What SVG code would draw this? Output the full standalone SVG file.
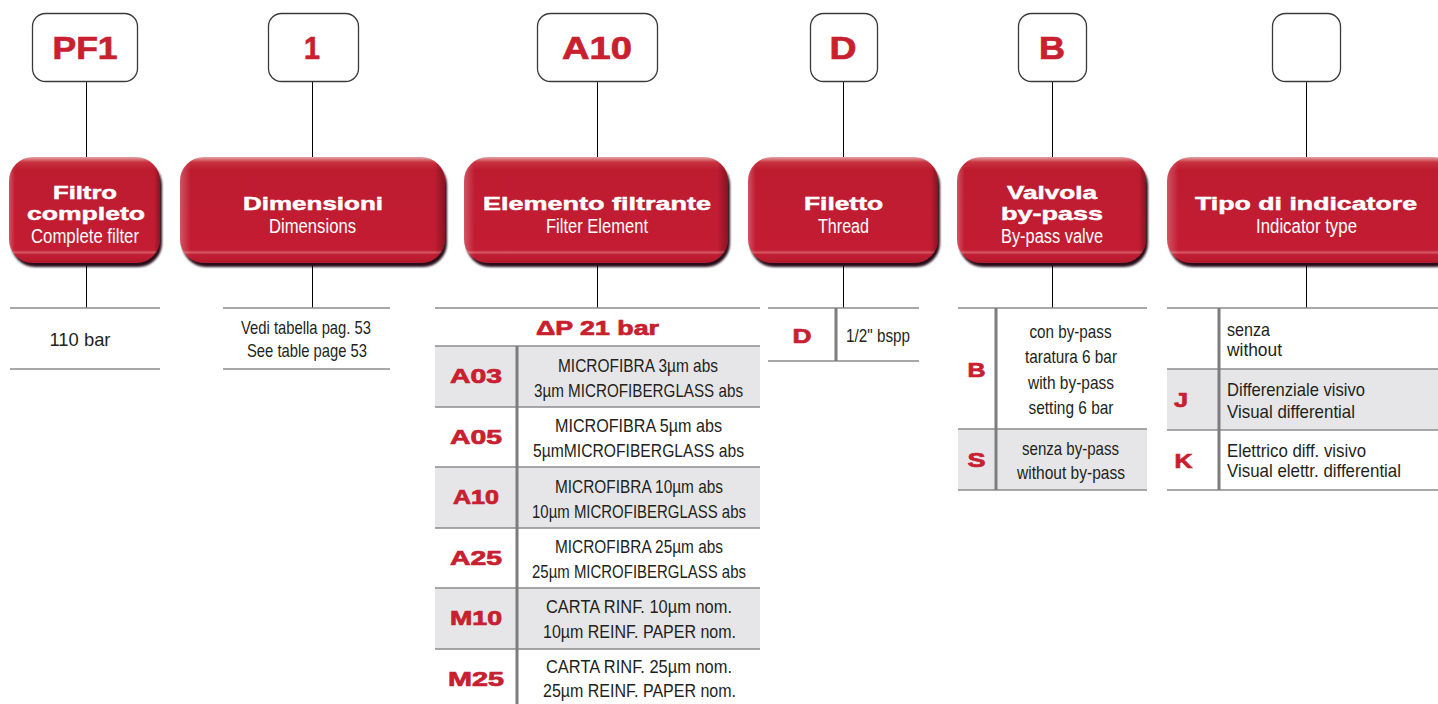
<svg xmlns="http://www.w3.org/2000/svg" width="1438" height="704" viewBox="0 0 1438 704">
<defs>
<linearGradient id="rg" x1="0" y1="0" x2="0" y2="1">
<stop offset="0" stop-color="#e4a3a3"/>
<stop offset="0.05" stop-color="#c8323f"/>
<stop offset="0.12" stop-color="#bd1c2f"/>
<stop offset="0.88" stop-color="#c41f33"/>
<stop offset="0.9" stop-color="#d55a66"/>
<stop offset="0.92" stop-color="#c41f33"/>
<stop offset="1" stop-color="#b01b2d"/>
</linearGradient>
<linearGradient id="lg" x1="0" y1="0" x2="1" y2="0">
<stop offset="0" stop-color="#ffffff" stop-opacity="0.25"/>
<stop offset="0.04" stop-color="#ffffff" stop-opacity="0"/>
<stop offset="0.96" stop-color="#000000" stop-opacity="0"/>
<stop offset="1" stop-color="#000000" stop-opacity="0.3"/>
</linearGradient>
<filter id="sh" x="-10%" y="-10%" width="120%" height="130%">
<feDropShadow dx="2" dy="4" stdDeviation="1.3" flood-color="#1a0508" flood-opacity="0.95"/>
</filter>
<style>
.tb{fill:#fff;stroke:#3a3a3a;stroke-width:1.3}
.code{font-family:"Liberation Sans",Arial,sans-serif;font-weight:bold;fill:#c8202f;stroke:#c8202f;stroke-width:0.7;text-anchor:middle}
.ttl{font-family:"Liberation Sans",Arial,sans-serif;font-weight:bold;font-size:19px;fill:#fff;stroke:#fff;stroke-width:0.5;text-anchor:middle}
.sub{font-family:"Liberation Sans Narrow","Liberation Sans",Arial,sans-serif;font-size:19.5px;fill:#fff;text-anchor:middle}
.bd{font-family:"Liberation Sans Narrow","Liberation Sans",Arial,sans-serif;font-size:18.5px;fill:#231f20}
.m{text-anchor:middle}
.ln{stroke:#8c8c8c;stroke-width:1.5}
.dv{stroke:#7d7d7d;stroke-width:3}
.cn{stroke:#000;stroke-width:1;fill:none}
.gr{fill:#e6e6e8}
.rb{fill:url(#rg);filter:url(#sh)}
.rh{fill:url(#lg)}
</style>
</defs>
<rect width="1438" height="704" fill="#fff"/>

<g id="connectors">
<path class="cn" d="M86.5 81V157M86.5 265V308"/>
<path class="cn" d="M312.5 81V157M312.5 265V308"/>
<path class="cn" d="M597.5 81V157M597.5 265V308"/>
<path class="cn" d="M843.5 81V157M843.5 265V308"/>
<path class="cn" d="M1052.5 81V157M1052.5 265V308"/>
<path class="cn" d="M1306.5 81V157M1306.5 265V308"/>
</g>

<g id="code-pf1"><rect class="tb" x="32.5" y="13.5" width="105" height="68" rx="13"/><text class="code" x="85" y="59" font-size="31" textLength="65" lengthAdjust="spacingAndGlyphs">PF1</text></g>
<g id="code-1"><rect class="tb" x="268.5" y="13.5" width="90" height="68" rx="13"/><text class="code" x="312" y="59" font-size="31" textLength="16" lengthAdjust="spacingAndGlyphs">1</text></g>
<g id="code-a10"><rect class="tb" x="537.5" y="13.5" width="120" height="68" rx="13"/><text class="code" x="597" y="59" font-size="31" textLength="70" lengthAdjust="spacingAndGlyphs">A10</text></g>
<g id="code-d"><rect class="tb" x="810.5" y="13.5" width="67" height="68" rx="13"/><text class="code" x="843" y="59" font-size="31" textLength="27" lengthAdjust="spacingAndGlyphs">D</text></g>
<g id="code-b"><rect class="tb" x="1018.5" y="13.5" width="68" height="68" rx="13"/><text class="code" x="1052" y="59" font-size="31" textLength="26" lengthAdjust="spacingAndGlyphs">B</text></g>
<g id="code-empty"><rect class="tb" x="1272.5" y="13.5" width="68" height="68" rx="13"/></g>

<g id="hdr-filtro">
<rect class="rb" x="9" y="157" width="151" height="106" rx="24"/><rect class="rh" x="9" y="157" width="151" height="106" rx="24"/>
<text class="ttl" x="85" y="199" textLength="64" lengthAdjust="spacingAndGlyphs">Filtro</text>
<text class="ttl" x="86" y="220" textLength="118" lengthAdjust="spacingAndGlyphs">completo</text>
<text class="sub" x="85" y="243" textLength="108" lengthAdjust="spacingAndGlyphs">Complete filter</text>
</g>
<g id="hdr-dimensioni">
<rect class="rb" x="180" y="157" width="265" height="106" rx="24"/><rect class="rh" x="180" y="157" width="265" height="106" rx="24"/>
<text class="ttl" x="313" y="210" textLength="140" lengthAdjust="spacingAndGlyphs">Dimensioni</text>
<text class="sub" x="312.5" y="233" textLength="87" lengthAdjust="spacingAndGlyphs">Dimensions</text>
</g>
<g id="hdr-elemento">
<rect class="rb" x="464" y="157" width="264" height="106" rx="24"/><rect class="rh" x="464" y="157" width="264" height="106" rx="24"/>
<text class="ttl" x="597" y="210" textLength="228" lengthAdjust="spacingAndGlyphs">Elemento filtrante</text>
<text class="sub" x="597" y="233" textLength="102" lengthAdjust="spacingAndGlyphs">Filter Element</text>
</g>
<g id="hdr-filetto">
<rect class="rb" x="748" y="157" width="190" height="106" rx="24"/><rect class="rh" x="748" y="157" width="190" height="106" rx="24"/>
<text class="ttl" x="843.5" y="210" textLength="79" lengthAdjust="spacingAndGlyphs">Filetto</text>
<text class="sub" x="843.5" y="233" textLength="51" lengthAdjust="spacingAndGlyphs">Thread</text>
</g>
<g id="hdr-valvola">
<rect class="rb" x="957" y="157" width="189" height="106" rx="24"/><rect class="rh" x="957" y="157" width="189" height="106" rx="24"/>
<text class="ttl" x="1052" y="199" textLength="90" lengthAdjust="spacingAndGlyphs">Valvola</text>
<text class="ttl" x="1052" y="220" textLength="102" lengthAdjust="spacingAndGlyphs">by-pass</text>
<text class="sub" x="1052" y="243" textLength="102" lengthAdjust="spacingAndGlyphs">By-pass valve</text>
</g>
<g id="hdr-tipo">
<rect class="rb" x="1167" y="157" width="290" height="106" rx="24"/><rect class="rh" x="1167" y="157" width="290" height="106" rx="24"/>
<text class="ttl" x="1306" y="210" textLength="222" lengthAdjust="spacingAndGlyphs">Tipo di indicatore</text>
<text class="sub" x="1306.5" y="233" textLength="101" lengthAdjust="spacingAndGlyphs">Indicator type</text>
</g>

<g id="tab-filtro">
<path class="ln" d="M10 308H160M10 369H160"/>
<text class="bd m" x="80" y="346" textLength="61" lengthAdjust="spacingAndGlyphs">110 bar</text>
</g>

<g id="tab-dimensioni">
<path class="ln" d="M223 308H390M223 369H390"/>
<text class="bd m" x="306" y="334" textLength="130" lengthAdjust="spacingAndGlyphs">Vedi tabella pag. 53</text>
<text class="bd m" x="307" y="357" textLength="120" lengthAdjust="spacingAndGlyphs">See table page 53</text>
</g>

<g id="tab-elemento">
<rect class="gr" x="435" y="346" width="325" height="61"/>
<rect class="gr" x="435" y="467" width="325" height="61"/>
<rect class="gr" x="435" y="588" width="325" height="61"/>
<path class="ln" d="M435 308H760M435 346H760M435 407H760M435 467H760M435 528H760M435 588H760M435 649H760"/>
<path class="dv" d="M517 346V704"/>
<text class="code" x="597.5" y="335" font-size="20" textLength="123" lengthAdjust="spacingAndGlyphs">ΔP 21 bar</text>
<text class="code" x="476" y="383" font-size="20" textLength="52" lengthAdjust="spacingAndGlyphs">A03</text>
<text class="code" x="476" y="444" font-size="20" textLength="52" lengthAdjust="spacingAndGlyphs">A05</text>
<text class="code" x="476" y="504" font-size="20" textLength="46" lengthAdjust="spacingAndGlyphs">A10</text>
<text class="code" x="476" y="565" font-size="20" textLength="52" lengthAdjust="spacingAndGlyphs">A25</text>
<text class="code" x="476" y="625" font-size="20" textLength="52" lengthAdjust="spacingAndGlyphs">M10</text>
<text class="code" x="476" y="686" font-size="20" textLength="56" lengthAdjust="spacingAndGlyphs">M25</text>
<text class="bd m" x="638" y="372" textLength="160" lengthAdjust="spacingAndGlyphs">MICROFIBRA 3µm abs</text>
<text class="bd m" x="638.5" y="397" textLength="209" lengthAdjust="spacingAndGlyphs">3µm MICROFIBERGLASS abs</text>
<text class="bd m" x="638.5" y="432" textLength="167" lengthAdjust="spacingAndGlyphs">MICROFIBRA 5µm abs</text>
<text class="bd m" x="638.5" y="457" textLength="211" lengthAdjust="spacingAndGlyphs">5µmMICROFIBERGLASS abs</text>
<text class="bd m" x="639" y="493" textLength="168" lengthAdjust="spacingAndGlyphs">MICROFIBRA 10µm abs</text>
<text class="bd m" x="639" y="518" textLength="214" lengthAdjust="spacingAndGlyphs">10µm MICROFIBERGLASS abs</text>
<text class="bd m" x="639" y="553" textLength="168" lengthAdjust="spacingAndGlyphs">MICROFIBRA 25µm abs</text>
<text class="bd m" x="639" y="578" textLength="214" lengthAdjust="spacingAndGlyphs">25µm MICROFIBERGLASS abs</text>
<text class="bd m" x="639" y="613" textLength="186" lengthAdjust="spacingAndGlyphs">CARTA RINF. 10µm nom.</text>
<text class="bd m" x="639.5" y="638" textLength="193" lengthAdjust="spacingAndGlyphs">10µm REINF. PAPER nom.</text>
<text class="bd m" x="639" y="673" textLength="186" lengthAdjust="spacingAndGlyphs">CARTA RINF. 25µm nom.</text>
<text class="bd m" x="639.5" y="697" textLength="193" lengthAdjust="spacingAndGlyphs">25µm REINF. PAPER nom.</text>
</g>

<g id="tab-filetto">
<path class="ln" d="M768 308H919M768 361H919"/>
<path class="dv" d="M836 308V361"/>
<text class="code" x="802" y="343" font-size="20" textLength="19" lengthAdjust="spacingAndGlyphs">D</text>
<text class="bd" x="846" y="342" textLength="64" lengthAdjust="spacingAndGlyphs">1/2" bspp</text>
</g>

<g id="tab-valvola">
<rect class="gr" x="958" y="429" width="189" height="61"/>
<path class="ln" d="M958 308H1147M958 429H1147M958 490H1147"/>
<path class="dv" d="M996 308V490"/>
<text class="code" x="976.5" y="377" font-size="20" textLength="18" lengthAdjust="spacingAndGlyphs">B</text>
<text class="code" x="976.5" y="467" font-size="20" textLength="18" lengthAdjust="spacingAndGlyphs">S</text>
<text class="bd m" x="1070.5" y="338" textLength="82" lengthAdjust="spacingAndGlyphs">con by-pass</text>
<text class="bd m" x="1071" y="363" textLength="92" lengthAdjust="spacingAndGlyphs">taratura 6 bar</text>
<text class="bd m" x="1071" y="389" textLength="86" lengthAdjust="spacingAndGlyphs">with by-pass</text>
<text class="bd m" x="1071" y="414" textLength="85" lengthAdjust="spacingAndGlyphs">setting 6 bar</text>
<text class="bd m" x="1070.5" y="455" textLength="97" lengthAdjust="spacingAndGlyphs">senza by-pass</text>
<text class="bd m" x="1071" y="479" textLength="108" lengthAdjust="spacingAndGlyphs">without by-pass</text>
</g>

<g id="tab-tipo">
<rect class="gr" x="1167" y="369" width="271" height="61"/>
<path class="ln" d="M1167 308H1438M1167 369H1438M1167 430H1438M1167 490H1438"/>
<path class="dv" d="M1219 308V490"/>
<text class="code" x="1181" y="407" font-size="20" textLength="14" lengthAdjust="spacingAndGlyphs">J</text>
<text class="code" x="1183.5" y="468" font-size="20" textLength="18" lengthAdjust="spacingAndGlyphs">K</text>
<text class="bd" x="1227" y="336" textLength="43" lengthAdjust="spacingAndGlyphs">senza</text>
<text class="bd" x="1227" y="356" textLength="55" lengthAdjust="spacingAndGlyphs">without</text>
<text class="bd" x="1227" y="396" textLength="138" lengthAdjust="spacingAndGlyphs">Differenziale visivo</text>
<text class="bd" x="1227" y="418" textLength="128" lengthAdjust="spacingAndGlyphs">Visual differential</text>
<text class="bd" x="1227" y="457" textLength="139" lengthAdjust="spacingAndGlyphs">Elettrico diff. visivo</text>
<text class="bd" x="1227" y="477" textLength="174" lengthAdjust="spacingAndGlyphs">Visual elettr. differential</text>
</g>
</svg>
